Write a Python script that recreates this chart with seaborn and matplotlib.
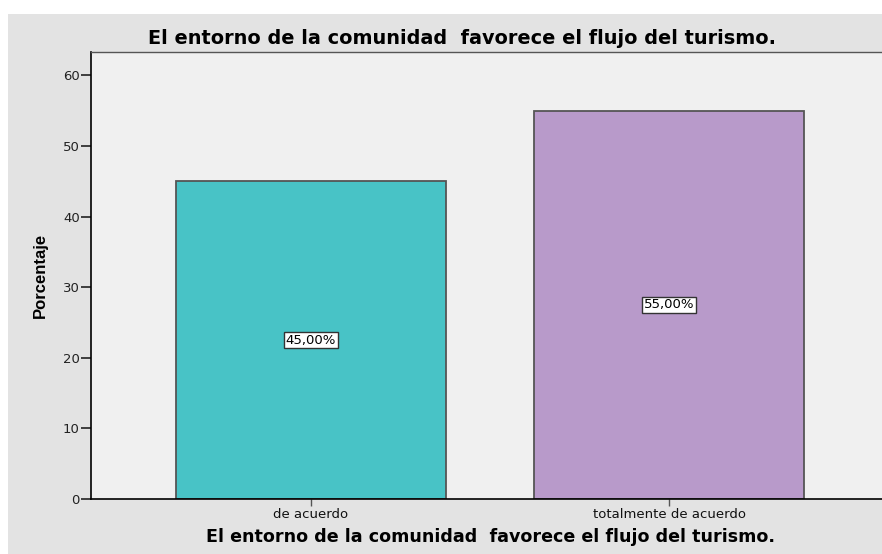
import numpy as np
import pandas as pd
import matplotlib
matplotlib.use("Agg")
import matplotlib.pyplot as plt
import seaborn as sns
from matplotlib.patches import Rectangle

categorias = ["de acuerdo", "totalmente de acuerdo"]
porcentajes = [45.0, 55.0]
etiquetas = ["45,00%", "55,00%"]
colores = ["#48C3C6", "#B89ACA"]
titulo = "El entorno de la comunidad  favorece el flujo del turismo."

df = pd.DataFrame({"categoria": categorias, "porcentaje": porcentajes})

sns.set_style("white")
plt.rcParams["font.family"] = ["DejaVu Sans"]
plt.rcParams["text.color"] = "black"

fig = plt.figure(figsize=(8.82, 5.54), dpi=100)
fig.patch.set_facecolor("white")
# outer gray frame
fig.patches.append(Rectangle((8 / 882, 0), 1, 1 - 14 / 554, transform=fig.transFigure,
                             facecolor="#E3E3E3", edgecolor="none", zorder=-5))

ax = fig.add_axes([91 / 882, 55 / 554, 798 / 882, 447 / 554])
ax.set_facecolor("#F0F0F0")

sns.barplot(data=df, x="categoria", y="porcentaje", hue="categoria",
            palette=colores, saturation=1, width=0.753, edgecolor="#555555",
            linewidth=1.3, legend=False, ax=ax)

ax.set_xlim(-0.613, 1.613)
ax.set_ylim(0, 63.3)
ax.set_yticks([0, 10, 20, 30, 40, 50, 60])

for i, (v, t) in enumerate(zip(porcentajes, etiquetas)):
    ax.text(i, v / 2, t, ha="center", va="center", fontsize=9.5, color="black",
            bbox=dict(boxstyle="square,pad=0.12", facecolor="white",
                      edgecolor="#333333", linewidth=1))

for s in ["left", "bottom"]:
    ax.spines[s].set_color("black")
    ax.spines[s].set_linewidth(1.2)
ax.spines["top"].set_color("#555555")
ax.spines["top"].set_linewidth(1)
ax.spines["right"].set_visible(False)

ax.tick_params(axis="y", direction="out", length=7.5, width=1.2, color="#222222",
               labelsize=9.5, labelcolor="#222222", left=True, pad=0.5)
ax.tick_params(axis="x", direction="out", length=5, width=1, color="#555555",
               labelsize=9.5, labelcolor="#111111", bottom=True, pad=1.5)

ax.set_ylabel("Porcentaje", fontsize=12, fontweight="bold", family="Liberation Sans",
              color="black", labelpad=11)
ax.set_xlabel(titulo, fontsize=12.6, fontweight="bold", color="black", labelpad=5)
fig.text(462.5 / 882, 1 - 39 / 554, titulo, ha="center", va="center",
         fontsize=13.9, fontweight="bold", color="black")

fig.savefig("out.png", dpi=100, facecolor=fig.get_facecolor())
